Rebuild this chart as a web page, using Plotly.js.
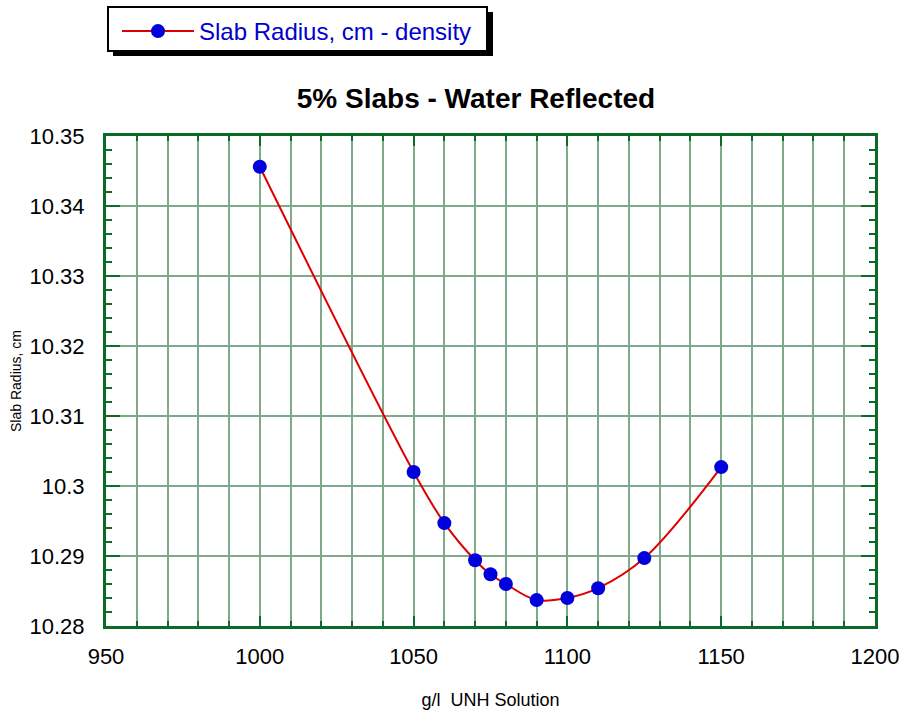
<!DOCTYPE html>
<html><head><meta charset="utf-8">
<script src="https://cdn.plot.ly/plotly-3.0.1.min.js"></script>
<style>body{margin:0;background:#fff}</style>
</head><body><div id="chart" style="width:904px;height:715px"></div>
<script>
const density = [1000, 1050, 1060, 1070, 1075, 1080, 1090, 1100, 1110, 1125, 1150];
const slabRadius = [10.3456, 10.3020, 10.2947, 10.2894, 10.2874, 10.2860, 10.2837, 10.2840, 10.2854, 10.2897, 10.3027];
const xTickVals = [950, 1000, 1050, 1100, 1150, 1200];
const xTickText = ['950', '1000', '1050', '1100', '1150', '1200'];
const yTickVals = [10.28, 10.29, 10.30, 10.31, 10.32, 10.33, 10.34, 10.35];
const yTickText = ['10.28', '10.29', '10.3', '10.31', '10.32', '10.33', '10.34', '10.35'];
const seriesName = 'Slab Radius, cm - density';

const W = 904, H = 715;
const L = 106, R = 875, T = 136, B = 626;
const px2x = p => (p - L) / (R - L);
const px2y = p => (B - p) / (B - T);

const axisColor = '#0b6a25';
const gridColor = '#7faa89';

const trace = {
  x: density, y: slabRadius, name: seriesName, type: 'scatter', mode: 'lines+markers',
  line: {color: '#dd0000', width: 2, shape: 'spline', smoothing: 1},
  marker: {color: '#0000dd', size: 14, line: {width: 0}},
  showlegend: true
};

const layout = {
  width: W, height: H,
  margin: {l: L, r: W - R, t: T, b: H - B},
  paper_bgcolor: '#fff', plot_bgcolor: '#fff',
  font: {family: 'Arial, Liberation Sans, sans-serif', color: '#000'},
  title: {text: '<b>5% Slabs - Water Reflected</b>', font: {size: 28, color: '#000'},
          x: px2x(476), xref: 'paper', xanchor: 'center', y: 1 - 98 / H, yref: 'container', yanchor: 'middle'},
  showlegend: true,
  legend: {x: px2x(117), y: 1 - 9 / H, xref: 'paper', yref: 'container', xanchor: 'left', yanchor: 'top',
           bgcolor: 'rgba(0,0,0,0)', borderwidth: 0, font: {size: 24, color: '#0000cc'}, itemwidth: 72},
  xaxis: {
    range: [950, 1200], tickmode: 'array', tickvals: xTickVals, ticktext: xTickText,
    ticks: 'inside', ticklen: 10, tickwidth: 2, tickcolor: axisColor,
    showline: true, linecolor: axisColor, linewidth: 3, mirror: 'allticks',
    showgrid: true, gridcolor: gridColor, gridwidth: 2, zeroline: false,
    tickfont: {size: 22}, ticklabelstandoff: 9,
    minor: {dtick: 10, ticks: 'inside', ticklen: 5, tickwidth: 2, tickcolor: axisColor, showgrid: true, gridcolor: gridColor, gridwidth: 2},
    title: {text: 'g/l  UNH Solution', font: {size: 18}, standoff: 25}
  },
  yaxis: {
    range: [10.28, 10.35], tickmode: 'array', tickvals: yTickVals, ticktext: yTickText,
    ticks: 'inside', ticklen: 14, tickwidth: 2, tickcolor: axisColor,
    showline: true, linecolor: axisColor, linewidth: 3, mirror: 'allticks',
    showgrid: true, gridcolor: gridColor, gridwidth: 2, zeroline: false,
    tickfont: {size: 22}, ticklabelstandoff: 14,
    minor: {dtick: 0.002, tick0: 10.28, ticks: 'inside', ticklen: 6, tickwidth: 2, tickcolor: axisColor, showgrid: false},
    title: {text: 'Slab Radius, cm', font: {size: 14}, standoff: 5}
  },
  shapes: [
    {type: 'rect', xref: 'paper', yref: 'paper', x0: px2x(113), x1: px2x(493), y0: px2y(56), y1: px2y(12),
     fillcolor: '#000', line: {width: 0}, layer: 'above'},
    {type: 'rect', xref: 'paper', yref: 'paper', x0: px2x(108), x1: px2x(487), y0: px2y(51), y1: px2y(7),
     fillcolor: '#fff', line: {width: 2, color: '#000'}, layer: 'above'}
  ]
};

Plotly.newPlot('chart', [trace], layout, {displayModeBar: false});
</script>
</body></html>
